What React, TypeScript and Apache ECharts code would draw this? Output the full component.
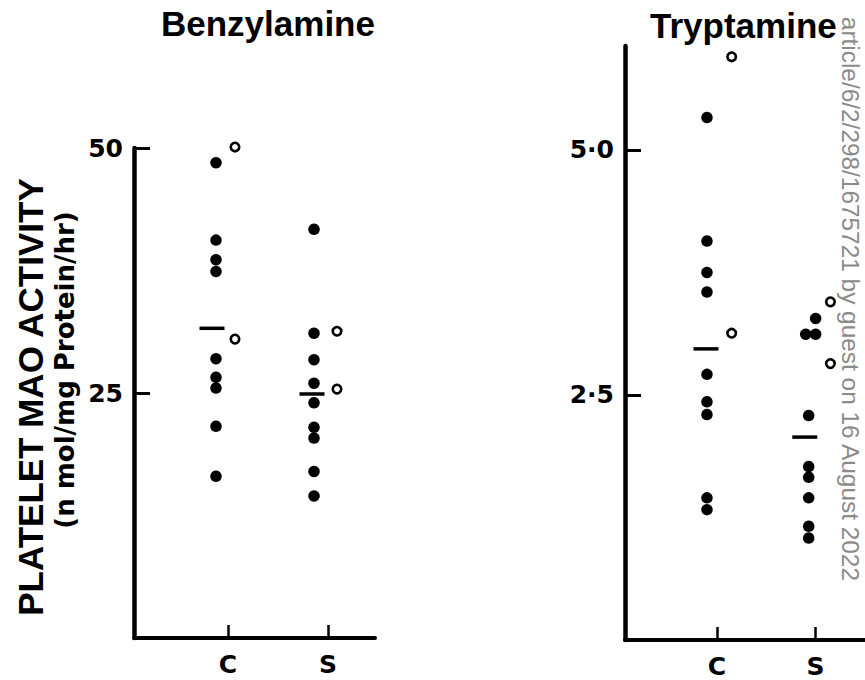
import React, { useEffect, useRef } from "react";
import * as echarts from "echarts";

// ---- data ----
const groupLabels = ["C", "S"];
const panelTitles = ["Benzylamine", "Tryptamine"];
const benzylTicks = [25, 50];
const tryptTicks = [2.5, 5];

const benzylC = [48.5, 40.6, 38.6, 37.4, 28.5, 26.6, 25.5, 21.6, 16.5];
const benzylCOpen = [50.1, 30.5];
const benzylS = [41.7, 31.1, 28.4, 26.0, 24.0, 21.5, 20.4, 17.0, 14.5];
const benzylSOpen = [31.3, 25.4];
const benzylMeans = [31.6, 24.9];

const tryptC = [5.33, 4.07, 3.75, 3.55, 2.71, 2.43, 2.3, 1.45, 1.33];
const tryptCOpen = [5.95, 3.13];
const tryptS = [3.28, 3.12, 3.12, 2.29, 1.77, 1.66, 1.45, 1.16, 1.04];
const tryptSJitter = [0.07, -0.03, 0.07, 0, 0, 0, 0, 0, 0];
const tryptSOpen = [3.45, 2.82];
const tryptMeans = [2.97, 2.07];

const watermark = "article/6/2/298/1675721 by guest on 16 August 2022";

const pts = (vals: number[], g: number, off: number, jit?: number[]) =>
  vals.map((v, i) => [g + off + (jit ? jit[i] : 0), v]);

const base = (idx: number) => ({
  type: "scatter",
  xAxisIndex: idx,
  yAxisIndex: idx,
  silent: true,
  clip: false,
});
const filled = (data: number[][], idx: number) => ({
  ...base(idx),
  symbol: "circle",
  symbolSize: 11.5,
  itemStyle: { color: "#000", opacity: 1 },
  data,
});
const open = (data: number[][], idx: number) => ({
  ...base(idx),
  symbol: "circle",
  symbolSize: 8.5,
  itemStyle: { color: "#fff", borderColor: "#000", borderWidth: 2.6, opacity: 1 },
  data,
});
const meanBar = (data: number[][], idx: number) => ({
  ...base(idx),
  symbol: "rect",
  symbolSize: [25, 3.5],
  itemStyle: { color: "#000", opacity: 1 },
  data,
});

const tickFont = {
  fontFamily: "DejaVu Sans",
  fontWeight: "bold" as const,
  fontSize: 25,
  color: "#000",
};

const titleStyle = (size: number) => ({
  fontFamily: "Liberation Sans",
  fontWeight: "bold" as const,
  fontSize: size,
  color: "#000",
});

export default function App() {
  const ref = useRef<HTMLDivElement>(null);
  useEffect(() => {
    if (!ref.current) return;
    const chart = echarts.init(ref.current, undefined, { renderer: "svg" });
    const xAxisCommon = (min: number, max: number, idx: number) => ({
      type: "value",
      gridIndex: idx,
      min,
      max,
      splitLine: { show: false },
      axisLine: { onZero: false, lineStyle: { color: "#000", width: 4 } },
      axisTick: {
        customValues: [1, 2],
        inside: true,
        length: 13,
        lineStyle: { color: "#000", width: 2.5 },
      },
      axisLabel: {
        customValues: [1, 2],
        formatter: (v: number) => groupLabels[Math.round(v) - 1] || "",
        margin: 14,
        ...tickFont,
      },
    });
    const yAxisCommon = (
      min: number,
      max: number,
      idx: number,
      ticks: number[],
      fmt: (v: number) => string
    ) => ({
      type: "value",
      gridIndex: idx,
      min,
      max,
      splitLine: { show: false },
      axisLine: { onZero: false, lineStyle: { color: "#000", width: 4.5 } },
      axisTick: {
        customValues: ticks,
        inside: true,
        length: 16,
        lineStyle: { color: "#000", width: 3 },
      },
      axisLabel: { customValues: ticks, formatter: fmt, margin: 11, ...tickFont },
    });

    chart.setOption({
      animation: false,
      backgroundColor: "#fff",
      title: [
        {
          text: panelTitles[0],
          left: 161,
          top: 6,
          padding: 0,
          textStyle: titleStyle(35),
        },
        {
          text: panelTitles[1],
          left: 650,
          top: 8,
          padding: 0,
          textStyle: titleStyle(35),
        },
      ],
      grid: [
        { left: 134, right: 490, top: 148, bottom: 42 },
        { left: 625, right: -3, top: 46, bottom: 40 },
      ],
      xAxis: [xAxisCommon(0.06, 2.47, 0), xAxisCommon(0.07, 2.5, 1)],
      yAxis: [
        yAxisCommon(0, 50, 0, benzylTicks, (v) => String(v)),
        yAxisCommon(0, 6.06, 1, tryptTicks, (v) => v.toFixed(1).replace(".", "·")),
      ],
      graphic: [
        {
          type: "text",
          x: 30,
          y: 397,
          rotation: Math.PI / 2,
          silent: true,
          style: {
            text: "PLATELET MAO ACTIVITY",
            fontFamily: "Liberation Sans",
            fontWeight: "bold",
            fontSize: 35,
            fill: "#000",
            textAlign: "center",
            textVerticalAlign: "middle",
          },
        },
        {
          type: "text",
          x: 65,
          y: 370,
          rotation: Math.PI / 2,
          silent: true,
          style: {
            text: "(n mol/mg Protein/hr)",
            fontFamily: "DejaVu Sans",
            fontWeight: "bold",
            fontSize: 26,
            fill: "#000",
            textAlign: "center",
            textVerticalAlign: "middle",
          },
        },
        {
          type: "text",
          x: 850,
          y: 581,
          rotation: -Math.PI / 2,
          silent: true,
          style: {
            text: watermark,
            fontFamily: "Liberation Sans",
            fontSize: 24.4,
            fill: "#8a8a8a",
            textAlign: "right",
            textVerticalAlign: "middle",
          },
        },
      ],
      series: [
        filled(pts(benzylC, 1, -0.12), 0),
        open(pts(benzylCOpen, 1, 0.07), 0),
        filled(pts(benzylS, 2, -0.14), 0),
        open(pts(benzylSOpen, 2, 0.09), 0),
        meanBar(benzylMeans.map((v, i) => [i + 1 - 0.16, v]), 0),
        filled(pts(tryptC, 1, -0.1), 1),
        open(pts(tryptCOpen, 1, 0.15), 1),
        filled(pts(tryptS, 2, -0.07, tryptSJitter), 1),
        open(pts(tryptSOpen, 2, 0.15), 1),
        meanBar(tryptMeans.map((v, i) => [i + 1 - 0.11, v]), 1),
      ],
    });
    return () => chart.dispose();
  }, []);
  return (
    <div
      ref={ref}
      style={{ position: "fixed", left: 0, top: 0, width: 865, height: 680 }}
    />
  );
}
